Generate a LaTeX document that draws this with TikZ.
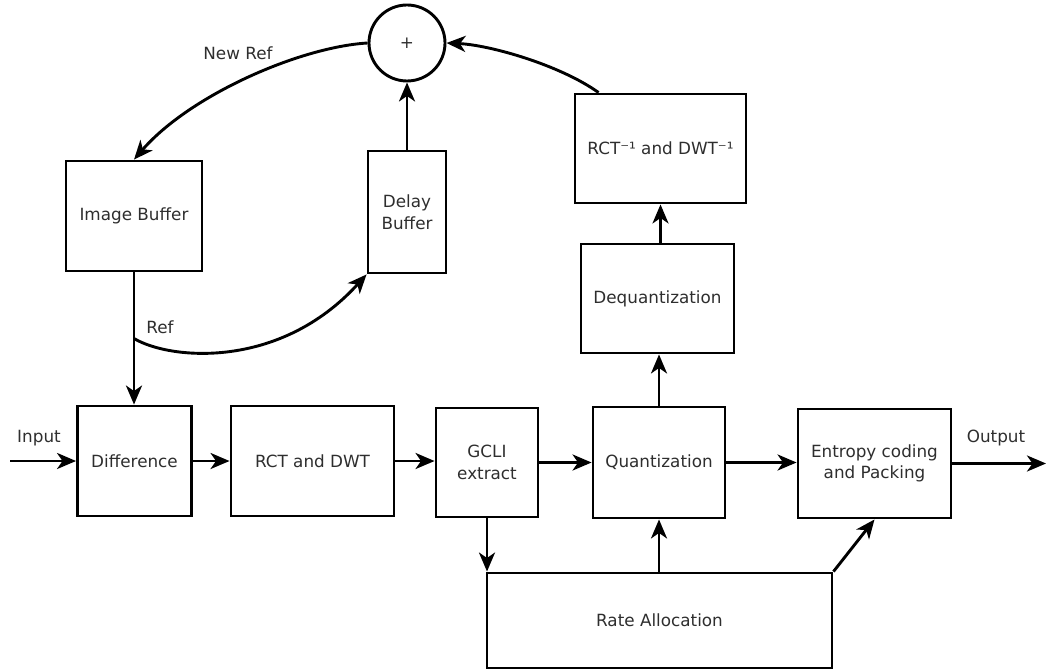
\documentclass[tikz,border=0pt]{standalone}
\usepackage{fontspec}
\setmainfont{DejaVu Sans}
\usetikzlibrary{arrows.meta,calc}
\begin{document}
\begin{tikzpicture}[x=1pt,y=-1pt,
  every node/.style={font=\fontsize{16.8}{21.5}\selectfont, text=black!82},
  box/.style={draw=black, line width=2.9pt, align=center, inner sep=0pt},
  arr/.style={line width=2.9pt, -{Stealth[length=19pt,width=16pt,inset=5.5pt]}},
  lbl/.style={inner sep=0pt}]
\useasboundingbox (0,0) rectangle (1046,671);
% nodes
\node[box, circle, minimum size=76pt] (sum) at (407,43) {+};
\node[box, minimum width=136pt, minimum height=110pt] (img) at (134,216) {Image Buffer};
\node[box, minimum width=78pt, minimum height=122pt] (delay) at (407,212) {Delay\\Buffer};
\node[box, minimum width=171pt, minimum height=109pt] (inv) at (660.5,148.5) {RCT⁻¹ and DWT⁻¹};
\node[box, minimum width=153pt, minimum height=109pt] (deq) at (657.5,298.5) {Dequantization};
\node[box, minimum width=114pt, minimum height=110pt] (diff) at (134.5,461) {Difference};
\node[box, minimum width=163pt, minimum height=110pt] (rct) at (312.5,461) {RCT and DWT};
\node[box, minimum width=102pt, minimum height=109pt] (gcli) at (487,462.5) {GCLI\\extract};
\node[box, minimum width=132pt, minimum height=111pt] (quant) at (659,462.5) {Quantization};
\node[box, minimum width=153pt, minimum height=109pt] (ent) at (874.5,463.5) {Entropy coding\\and Packing};
\node[box, minimum width=345pt, minimum height=95pt] (rate) at (659.5,620.5) {Rate Allocation};
% labels
\node[lbl] (linput) at (39,438) {Input};
\node[lbl] (loutput) at (996,438) {Output};
\node[lbl] (lref) at (160,327) {Ref};
\node[lbl] (lnewref) at (238,53) {New Ref};
% free ends
\coordinate (in) at (10,461);
\coordinate (out) at (1046,463.5);
\coordinate (invstart) at ($(inv.north west)+(25,0)$);
% connectors
\draw[arr] (in) -- (diff.west);
\draw[arr] (diff.east) -- (rct.west |- diff.east);
\draw[arr] (rct.east) -- (gcli.west |- rct.east);
\draw[arr] (gcli.east) -- (quant.west |- gcli.east);
\draw[arr] (quant.east) -- (ent.west |- quant.east);
\draw[arr] (ent.east) -- (out);
\draw[arr] (img.south) -- (img.south |- diff.north) coordinate[pos=0.5] (refpt);
\draw[arr] (refpt) .. controls (170,360) and (280,370) .. (delay.south west);
\draw[arr] (delay.north) -- (sum.south);
\draw[arr] (sum.west) .. controls (300,47) and (190,95) .. (img.north);
\draw[arr] (invstart) .. controls (560,65) and (490,45) .. (sum.east);
\draw[arr] (deq.north -| inv.south) -- (inv.south);
\draw[arr] (quant.north) -- (quant.north |- deq.south);
\draw[arr] (gcli.south) -- (gcli.south |- rate.north);
\draw[arr] (quant.south |- rate.north) -- (quant.south);
\draw[arr] (rate.north east) -- (ent.south);
\end{tikzpicture}
\end{document}
